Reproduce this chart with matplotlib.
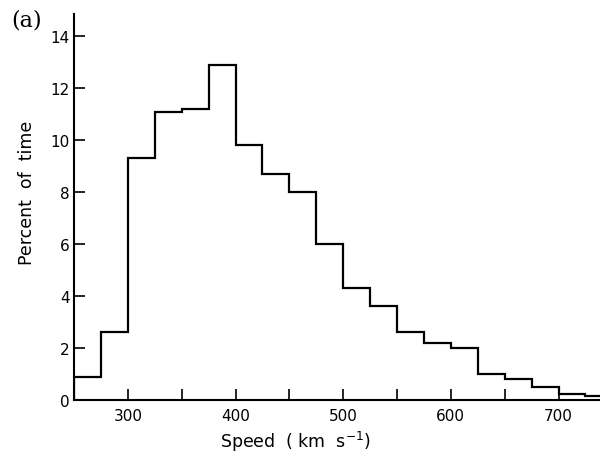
import matplotlib
matplotlib.use("Agg")
import matplotlib.pyplot as plt

# speed bins (km/s) and percent of time spent in each bin
bin_edges = [250, 275, 300, 325, 350, 375, 400, 425, 450, 475, 500,
             525, 550, 575, 600, 625, 650, 675, 700, 725, 750]
percent = [0.9, 2.6, 9.3, 11.1, 11.2, 12.9, 9.8, 8.7, 8.0, 6.0,
           4.3, 3.6, 2.6, 2.2, 2.0, 1.0, 0.8, 0.5, 0.25, 0.15]

x_ticks = [300, 350, 400, 450, 500, 550, 600, 650, 700]
x_labels = ["300", "", "400", "", "500", "", "600", "", "700"]
y_ticks = [0, 2, 4, 6, 8, 10, 12, 14]

plt.rcParams['font.family'] = ['DejaVu Sans']

fig = plt.figure(figsize=(6, 4.56), dpi=100)
ax = fig.add_axes([0.1233, 0.1206, 0.8767, 0.8464])

ax.stairs(percent, bin_edges, color='black', linewidth=1.6, baseline=0)

ax.set_xlim(250, 738.5)
ax.set_ylim(0, 14.85)

ax.spines['top'].set_visible(False)
ax.spines['right'].set_visible(False)
ax.spines['left'].set_linewidth(1.5)
ax.spines['bottom'].set_linewidth(1.5)

ax.set_xticks(x_ticks)
ax.set_xticklabels(x_labels)
ax.set_yticks(y_ticks)
ax.tick_params(direction='in', length=8, width=1.2, labelsize=11, pad=6)
ax.tick_params(axis='y', pad=3)

ax.set_xlabel("Speed  ( km  s$^{-1}$)", fontsize=12.5)
ax.xaxis.set_label_coords(0.42, -0.075)
ax.set_ylabel("Percent  of  time", fontsize=12.5)
ax.yaxis.set_label_coords(-0.072, 0.54)

fig.text(0.018, 0.955, "(a)", fontsize=16, family='DejaVu Serif', va='center')

fig.savefig("out.png", dpi=100)
